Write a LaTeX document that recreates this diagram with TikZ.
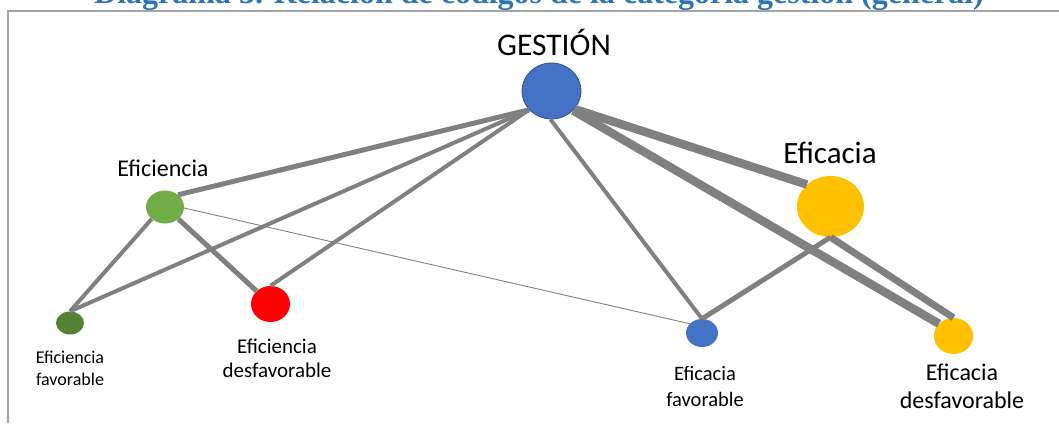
\documentclass[tikz,border=0pt]{standalone}
\usepackage{fontspec}
\setmainfont{Carlito}
\newfontfamily\titlefont{Liberation Serif}
\usetikzlibrary{shapes.geometric}

\definecolor{nodeblue}{HTML}{4472C4}
\definecolor{nodeblueedge}{HTML}{2F528F}
\definecolor{lightgreen}{HTML}{70AD47}
\definecolor{darkgreen}{HTML}{548235}
\definecolor{gold}{HTML}{FFC000}
\definecolor{linkgray}{HTML}{808080}
\definecolor{framegray}{HTML}{A6A6A6}
\definecolor{titleblue}{HTML}{2E74B5}

\tikzset{
  dot/.style={ellipse, inner sep=0pt, draw=none},
  lbl/.style={align=center, inner sep=0pt, text=black},
  link/.style={draw=linkgray, line cap=butt},
}

\begin{document}
\begin{tikzpicture}[x=1pt, y=-1pt]
  \useasboundingbox (0,0) rectangle (1059,423);
  \clip (0,0) rectangle (1059,423);

  % caption, mostly above the page edge
  \node[anchor=base, inner sep=0pt, text=titleblue,
        font=\titlefont\bfseries\fontsize{32}{38}\selectfont] (title) at (539,4)
    {Diagrama 3. Relación de códigos de la categoría gestión (general)};

  % frame
  \draw[framegray, line width=2pt] (8,423) -- (8,11) -- (1060,11);

  % nodes
  \node[dot, fill=nodeblue, draw=nodeblueedge, line width=0.8pt,
        minimum width=59pt, minimum height=56pt] (g) at (551.5,91) {};
  \node[dot, fill=lightgreen, minimum width=38pt, minimum height=33pt] (ef) at (165,207) {};
  \node[dot, fill=darkgreen, minimum width=28pt, minimum height=23pt] (eff) at (70,323) {};
  \node[dot, fill=red, minimum width=39pt, minimum height=36pt] (efd) at (270.5,304) {};
  \node[dot, fill=nodeblue, minimum width=32pt, minimum height=28pt] (eaf) at (702,333) {};
  \node[dot, fill=gold, minimum width=67pt, minimum height=61pt] (ea) at (830.5,206.5) {};
  \node[dot, fill=gold, minimum width=39pt, minimum height=36pt] (ead) at (953.5,336) {};

  % links, thickness by weight
  \draw[link, line width=5pt] (g.220) -- (ef.43);
  \draw[link, line width=4pt] (g.220) -- (eff.90);
  \draw[link, line width=4pt] (g.220) -- (efd.90);
  \draw[link, line width=4pt] (g.268) -- (eaf.90);
  \draw[link, line width=8.5pt] (g.322) -- (ea.137);
  \draw[link, line width=8.5pt] (g.318) -- (ead.140);
  \draw[link, line width=7pt] (ea.270) -- (ead.90);
  \draw[link, line width=5pt] (ea.270) -- (eaf.90);
  \draw[link, line width=4pt] (ef.222) -- (eff.90);
  \draw[link, line width=5pt] (ef.318) -- (efd.137);
  \draw[link, line width=0.9pt] (ef.357) -- (eaf.143);

  % labels
  \node[lbl, font=\fontsize{31.5}{36}\selectfont] (gl) at (554,42) {GESTIÓN};
  \node[lbl, font=\fontsize{24}{28}\selectfont] (efl) at (163,168) {Eficiencia};
  \node[lbl, font=\fontsize{18}{22}\selectfont] (effl) at (70,368) {Eficiencia\\favorable};
  \node[lbl, font=\fontsize{21}{24}\selectfont] (efdl) at (277,358) {Eficiencia\\desfavorable};
  \node[lbl, font=\fontsize{20.5}{26}\selectfont] (eafl) at (705,386) {Eficacia\\favorable};
  \node[lbl, font=\fontsize{31}{36}\selectfont] (eal) at (830,153) {Eficacia};
  \node[lbl, font=\fontsize{24}{28}\selectfont] (eadl) at (962,386) {Eficacia\\desfavorable};
\end{tikzpicture}
\end{document}
